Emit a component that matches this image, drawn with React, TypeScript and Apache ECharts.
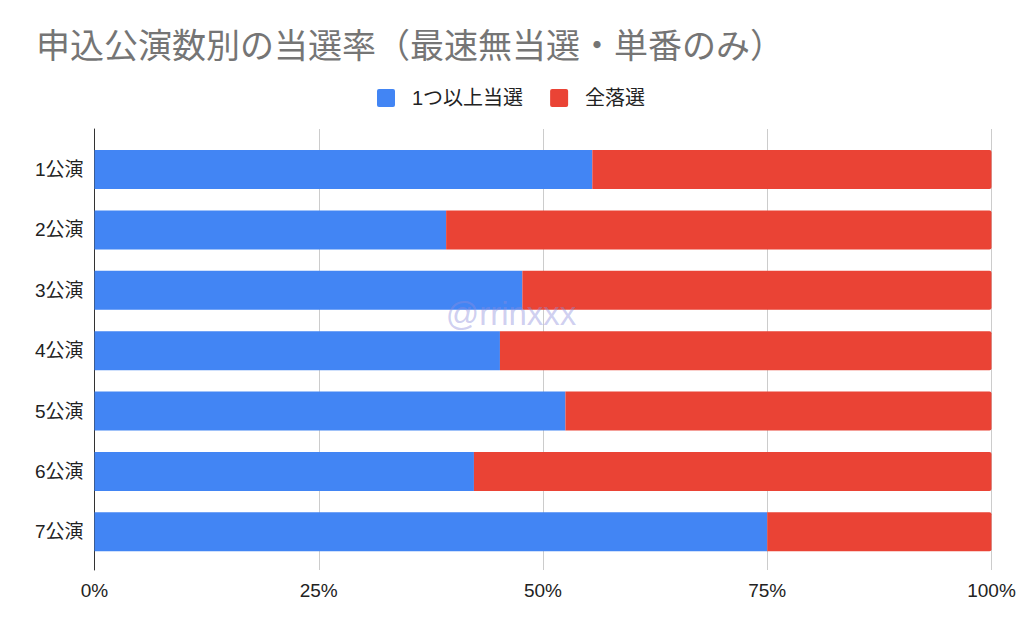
import React, { useEffect, useRef } from "react";
import * as echarts from "echarts";

const categories = ["1公演", "2公演", "3公演", "4公演", "5公演", "6公演", "7公演"];
const winAtLeastOne = [55.5, 39.2, 47.7, 45.2, 52.5, 42.3, 75.0];
const allLost = [44.5, 60.8, 52.3, 54.8, 47.5, 57.7, 25.0];
const seriesNames = ["1つ以上当選", "全落選"];
const titleText = "申込公演数別の当選率（最速無当選・単番のみ）";
const watermark = "@rrinxxx";

const FONT = '"Liberation Sans", Arial, "Noto Sans CJK JP", sans-serif';

export default function App() {
  const ref = useRef<HTMLDivElement>(null);
  useEffect(() => {
    if (!ref.current) return;
    const chart = echarts.init(ref.current, undefined, { renderer: "svg" });
    chart.setOption({
      animation: false,
      backgroundColor: "#ffffff",
      textStyle: { fontFamily: FONT },
      title: {
        text: titleText,
        left: 31,
        top: 24,
        textStyle: { fontFamily: FONT, fontSize: 34, fontWeight: "normal", color: "#757575" },
      },
      legend: {
        data: seriesNames,
        left: 372,
        top: 83,
        itemWidth: 18,
        itemHeight: 18,
        itemGap: 27,
        icon: "path://M2,0 L16,0 Q18,0 18,2 L18,16 Q18,18 16,18 L2,18 Q0,18 0,16 L0,2 Q0,0 2,0 Z",
        textStyle: { fontFamily: FONT, fontSize: 20, color: "#222", padding: [0, 0, 0, 12] },
      },
      grid: [
        { left: 94.5, right: 32.5, top: 139.3, bottom: 71, containLabel: false },
        { left: 94.5, right: 32.5, top: 129, bottom: 63, containLabel: false },
      ],
      xAxis: [
        {
          gridIndex: 0,
          type: "value",
          min: 0,
          max: 100,
          show: false,
          splitLine: { show: false },
        },
        {
          gridIndex: 1,
          type: "value",
          min: 0,
          max: 100,
          interval: 25,
          axisLine: { show: false },
          axisTick: { show: false },
          axisLabel: {
            formatter: "{value}%",
            fontFamily: FONT,
            fontSize: 19,
            color: "#222",
            margin: 11,
          },
          splitLine: { show: true, lineStyle: { color: "#cccccc", width: 1 } },
        },
      ],
      yAxis: [
        {
          gridIndex: 0,
          type: "category",
          data: categories,
          inverse: true,
          axisLine: { show: false },
          axisTick: { show: false },
          axisLabel: { fontFamily: FONT, fontSize: 19, color: "#222", margin: 11 },
        },
        {
          gridIndex: 1,
          type: "value",
          min: 0,
          max: 1,
          axisLine: { show: true, lineStyle: { color: "#333", width: 1 } },
          axisTick: { show: false },
          axisLabel: { show: false },
          splitLine: { show: false },
        },
      ],
      series: [
        {
          name: seriesNames[0],
          type: "bar",
          stack: "total",
          xAxisIndex: 0,
          yAxisIndex: 0,
          barWidth: 39,
          data: winAtLeastOne,
          itemStyle: { color: "#4285F4" },
          z: 3,
        },
        {
          name: seriesNames[1],
          type: "bar",
          stack: "total",
          xAxisIndex: 0,
          yAxisIndex: 0,
          barWidth: 39,
          data: allLost,
          itemStyle: { color: "#EA4335", borderRadius: [0, 2, 2, 0] },
          z: 3,
        },
      ],
      graphic: [
        {
          type: "text",
          x: 511,
          y: 313,
          z: 100,
          silent: true,
          style: {
            text: watermark,
            fontFamily: FONT,
            fontSize: 33,
            fill: "rgba(140,140,220,0.42)",
            textAlign: "center",
            textVerticalAlign: "middle",
          },
        },
      ],
    });
    return () => chart.dispose();
  }, []);
  return (
    <div
      ref={ref}
      style={{ position: "fixed", left: 0, top: 0, width: 1024, height: 633 }}
    />
  );
}
